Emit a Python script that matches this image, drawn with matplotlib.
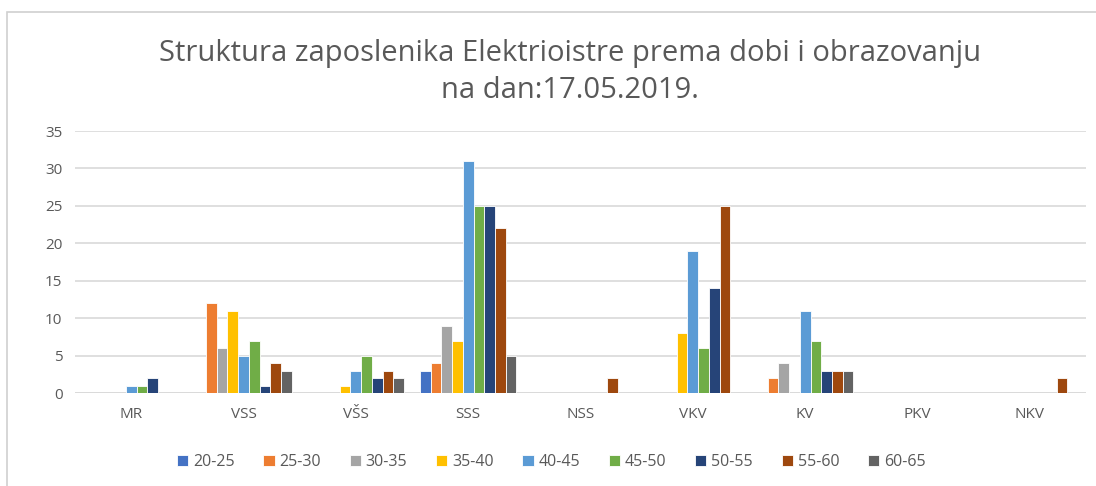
import numpy as np
import matplotlib
matplotlib.use("Agg")
import matplotlib.pyplot as plt
from matplotlib.patches import Rectangle

categories = ["MR", "VSS", "VŠS", "SSS", "NSS", "VKV", "KV", "PKV", "NKV"]
age_groups = ["20-25", "25-30", "30-35", "35-40", "40-45", "45-50", "50-55", "55-60", "60-65"]

# rows = age group, columns = education category
v_20_25 = [0, 0, 0, 3, 0, 0, 0, 0, 0]
v_25_30 = [0, 12, 0, 4, 0, 0, 2, 0, 0]
v_30_35 = [0, 6, 0, 9, 0, 0, 4, 0, 0]
v_35_40 = [0, 11, 1, 7, 0, 8, 0, 0, 0]
v_40_45 = [1, 5, 3, 31, 0, 19, 11, 0, 0]
v_45_50 = [1, 7, 5, 25, 0, 6, 7, 0, 0]
v_50_55 = [2, 1, 2, 25, 0, 14, 3, 0, 0]
v_55_60 = [0, 4, 3, 22, 2, 25, 3, 0, 2]
v_60_65 = [0, 3, 2, 5, 0, 0, 3, 0, 0]
series = [v_20_25, v_25_30, v_30_35, v_35_40, v_40_45, v_45_50, v_50_55, v_55_60, v_60_65]

colors = ["#4472C4", "#ED7D31", "#A5A5A5", "#FFC000", "#5B9BD5",
          "#70AD47", "#264478", "#9E480E", "#636363"]

plt.rcParams['font.family'] = ['Open Sans', 'DejaVu Sans']
text_col = "#595959"

fig = plt.figure(figsize=(10.96, 4.86), dpi=100)
ax = fig.add_axes([75 / 1096, 1 - 393 / 486, 1011 / 1096, 262 / 486])

x = np.arange(len(categories))
pitch = 0.095
for i, (vals, c) in enumerate(zip(series, colors)):
    offs = (i - 4) * pitch
    ax.bar(x + offs, vals, width=pitch, color=c, edgecolor="white",
           linewidth=0.6, label=age_groups[i], zorder=3)

ax.set_xlim(-0.5, len(categories) - 0.5)
ax.set_ylim(0, 35)
ax.set_yticks(range(0, 36, 5))
ax.set_xticks(x)
ax.set_xticklabels(categories)
ax.grid(axis="y", color="#D9D9D9", linewidth=1.2, zorder=0)
for s in ax.spines.values():
    s.set_visible(False)
ax.axhline(0, color="#D9D9D9", linewidth=1.2, zorder=2)
ax.tick_params(axis="both", length=0, labelsize=11, labelcolor=text_col)
ax.tick_params(axis="x", pad=10)
ax.tick_params(axis="y", pad=9)

fig.text(0.52, 1 - 72 / 486, "Struktura zaposlenika Elektrioistre prema dobi i obrazovanju\nna dan:17.05.2019.",
         ha="center", va="center", fontsize=21, color=text_col, linespacing=1.38)

leg = fig.legend(loc="center", bbox_to_anchor=(0.503, 1 - 462 / 486), ncol=9,
                 frameon=False, fontsize=11.5, handlelength=0.7, handleheight=0.7,
                 handletextpad=0.3, columnspacing=1.8)
for t in leg.get_texts():
    t.set_color(text_col)

# chart frame (screenshot border)
fig.patches.append(Rectangle((7 / 1096, -0.01), 1.1, 1 - 12 / 486 + 0.01,
                             transform=fig.transFigure, fill=False,
                             edgecolor="#D0D0D0", linewidth=1.2))

fig.savefig("out.png", dpi=100)
